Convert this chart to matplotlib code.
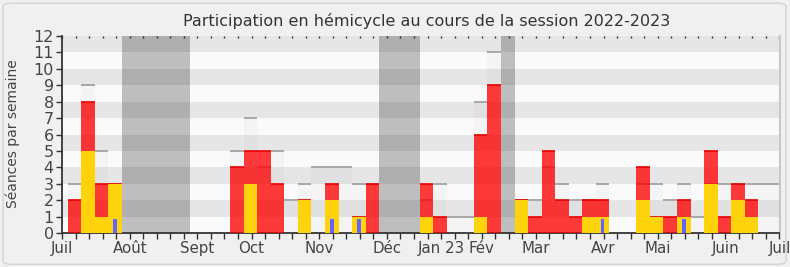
import numpy as np, matplotlib
matplotlib.use('Agg'); import matplotlib.pyplot as plt
from matplotlib.patches import FancyBboxPatch

# weekly data, week 0 = week starting Mon 4 July 2022
presences     = [2,8,3,3, 0,0,0,0,0, 0,0,0, 4,5,5,3,0,2,0,3,0,1,3, 0,0,0, 3,1,0,0,6,9, 0, 2,1,5,2,1,2,2,0,0,4,1,1,2,0,5,1,3,2,0,0]
interventions = [0,5,1,3, 0,0,0,0,0, 0,0,0, 0,3,0,0,0,2,0,2,0,1,0, 0,0,0, 1,0,0,0,1,0, 0, 2,0,0,0,0,1,1,0,0,2,1,0,1,0,3,0,2,1,0,0]
questions     = [0,0,0,1, 0,0,0,0,0, 0,0,0, 0,0,0,0,0,0,0,1,0,1,0, 0,0,0, 0,0,0,0,0,0, 0, 0,0,0,0,0,0,1,0,0,0,0,0,1,0,0,0,0,0,0,0]
seances       = [3,9,5,3, 0,0,0,0,0, 0,0,0, 5,7,4,5,2,3,4,4,4,3,3, 0,0,0, 2,3,1,1,8,11, 0, 2,2,4,3,2,2,3,0,0,3,3,2,3,1,3,3,3,3,3,3]
vacances      = [4,5,6,7,8, 23,24,25, 32]
month_labels  = ['Juil','Août','Sept','Oct','Nov','Déc','Jan 23','Fév','Mar','Avr','Mai','Juin','Juil']
month_weeks   = [0,5,10,14,19,24,28,31,35,40,44,49,53]

monday = 3/7  # weeks start on Monday, axis starts Friday 1 July
x = np.arange(len(presences)) + monday

fig = plt.figure(figsize=(7.9,2.67), dpi=100, facecolor='#f0f0f0')
fig.patches.append(FancyBboxPatch((0.004,0.01),0.991,0.978, boxstyle='round,pad=0,rounding_size=0.012',
    transform=fig.transFigure, facecolor='#f0f0f0', edgecolor='#d4d4d4', lw=1, zorder=-10))
ax = fig.add_axes([62/790, 1-233/267, 717.5/790, 197/267])
ax.set_facecolor('none')

for i in range(12):
    ax.axhspan(i, i+1, color='#fafafa' if i%2==0 else '#e6e6e6', lw=0, zorder=0)
for v in vacances:
    ax.axvspan(v+monday, v+monday+1, color='k', alpha=0.24, lw=0, zorder=1)

ax.bar(x, seances, width=1, align='edge', color='k', alpha=0.025, lw=0, zorder=2)
s = np.array(seances)
ax.hlines(s[s>0], x[s>0], x[s>0]+1, color='#a8a8a8', lw=1.4, zorder=2.5)
ax.bar(x, presences, width=1, align='edge', color='#ff0000', alpha=0.77, lw=0, zorder=3)
p = np.array(presences)
ax.hlines(p[p>0], x[p>0], x[p>0]+1, color='#e80000', lw=1.2, zorder=3.5)
ax.bar(x, interventions, width=1, align='edge', color='#ffd30b', lw=0, zorder=4)
q = np.array(questions)
ax.bar(x[q>0]+0.5, q[q>0]*0.85, width=0.28, color='#6464ff', lw=0, zorder=5)

ax.set_xlim(0,53); ax.set_ylim(0,12)
ax.set_yticks(range(13))
ax.set_xticks(month_weeks, month_labels)
ax.set_xticks(range(54), minor=True)
ax.tick_params(axis='both', which='both', colors='#333', labelcolor='#444', labelsize=10.8, length=4, width=1)
ax.tick_params(axis='x', which='both', pad=1.5)
ax.tick_params(axis='y', pad=2, labelsize=11.5)
for sp in ['left','bottom']:
    ax.spines[sp].set_color('#333'); ax.spines[sp].set_linewidth(1.3)
ax.spines['top'].set_visible(False)
ax.spines['right'].set_color('#c8c8c8'); ax.spines['right'].set_linewidth(1.5)
# small dots along the top
sec = ax.secondary_xaxis('top')
sec.set_xticks(range(54)); sec.set_xticklabels([])
sec.tick_params(direction='in', length=1.2, width=1, colors='#333')
for sp in sec.spines.values():
    sp.set_visible(False)

fig.text(12.5/790, 1-134/267, 'Séances par semaine', rotation=90, ha='center', va='center',
         fontsize=10, color='#444')
fig.text(427/790, 1-21/267, 'Participation en hémicycle au cours de la session 2022-2023',
         ha='center', va='center', fontsize=11.5, color='#333')
fig.savefig('out.png', dpi=100, facecolor=fig.get_facecolor())
